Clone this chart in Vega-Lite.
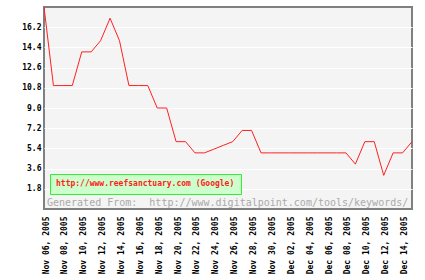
{
  "$schema": "https://vega.github.io/schema/vega-lite/v6.json",
  "autosize": "none",
  "width": 368,
  "height": 202,
  "padding": {"left": 44, "top": 7, "right": 13, "bottom": 71},
  "background": "white",
  "config": {
    "view": {"stroke": "#808080", "strokeWidth": 2, "fill": "#f4f4f4"}
  },
  "data": {
    "values": [
      {"date": "Nov 06, 2005", "v": 18},
      {"date": "Nov 07, 2005", "v": 11},
      {"date": "Nov 08, 2005", "v": 11},
      {"date": "Nov 09, 2005", "v": 11},
      {"date": "Nov 10, 2005", "v": 14},
      {"date": "Nov 11, 2005", "v": 14},
      {"date": "Nov 12, 2005", "v": 15},
      {"date": "Nov 13, 2005", "v": 17},
      {"date": "Nov 14, 2005", "v": 15},
      {"date": "Nov 15, 2005", "v": 11},
      {"date": "Nov 16, 2005", "v": 11},
      {"date": "Nov 17, 2005", "v": 11},
      {"date": "Nov 18, 2005", "v": 9},
      {"date": "Nov 19, 2005", "v": 9},
      {"date": "Nov 20, 2005", "v": 6},
      {"date": "Nov 21, 2005", "v": 6},
      {"date": "Nov 22, 2005", "v": 5},
      {"date": "Nov 23, 2005", "v": 5},
      {"date": "Nov 24, 2005", "v": 5.33},
      {"date": "Nov 25, 2005", "v": 5.67},
      {"date": "Nov 26, 2005", "v": 6},
      {"date": "Nov 27, 2005", "v": 7},
      {"date": "Nov 28, 2005", "v": 7},
      {"date": "Nov 29, 2005", "v": 5},
      {"date": "Nov 30, 2005", "v": 5},
      {"date": "Dec 01, 2005", "v": 5},
      {"date": "Dec 02, 2005", "v": 5},
      {"date": "Dec 03, 2005", "v": 5},
      {"date": "Dec 04, 2005", "v": 5},
      {"date": "Dec 05, 2005", "v": 5},
      {"date": "Dec 06, 2005", "v": 5},
      {"date": "Dec 07, 2005", "v": 5},
      {"date": "Dec 08, 2005", "v": 5},
      {"date": "Dec 09, 2005", "v": 4},
      {"date": "Dec 10, 2005", "v": 6},
      {"date": "Dec 11, 2005", "v": 6},
      {"date": "Dec 12, 2005", "v": 3},
      {"date": "Dec 13, 2005", "v": 5},
      {"date": "Dec 14, 2005", "v": 5},
      {"date": "Dec 15, 2005", "v": 6}
    ]
  },
  "layer": [
    {
      "mark": {"type": "line", "strokeWidth": 1, "interpolate": "linear"},
      "encoding": {
        "x": {
          "field": "date",
          "type": "ordinal",
          "sort": null,
          "scale": {"type": "point", "padding": 0},
          "axis": {
            "title": null,
            "values": ["Nov 06, 2005", "Nov 08, 2005", "Nov 10, 2005", "Nov 12, 2005", "Nov 14, 2005", "Nov 16, 2005", "Nov 18, 2005", "Nov 20, 2005", "Nov 22, 2005", "Nov 24, 2005", "Nov 26, 2005", "Nov 28, 2005", "Nov 30, 2005", "Dec 02, 2005", "Dec 04, 2005", "Dec 06, 2005", "Dec 08, 2005", "Dec 10, 2005", "Dec 12, 2005", "Dec 14, 2005"],
            "labelAngle": -90,
            "labelFont": "DejaVu Sans Mono",
            "labelFontWeight": "bold",
            "labelFontSize": 8,
            "labelColor": "#000000",
            "labelPadding": 7,
            "labelOffset": 2,
            "labelOverlap": false,
            "ticks": false,
            "domain": false,
            "grid": false
          }
        },
        "y": {
          "field": "v",
          "type": "quantitative",
          "scale": {"domain": [0, 18], "nice": false, "zero": true},
          "axis": {
            "title": null,
            "values": [1.8, 3.6, 5.4, 7.2, 9.0, 10.8, 12.6, 14.4, 16.2],
            "tickCount": 20,
            "format": ".1f",
            "labelFont": "DejaVu Sans Mono",
            "labelFontWeight": "bold",
            "labelFontSize": 8,
            "labelColor": "#000000",
            "labelPadding": 3,
            "labelOverlap": false,
            "ticks": false,
            "domain": false,
            "grid": true,
            "gridColor": "#ffffff",
            "gridWidth": 1,
            "gridOpacity": 1
          }
        },
        "color": {
          "datum": "http://www.reefsanctuary.com (Google)",
          "type": "nominal",
          "scale": {"range": ["#ff2020"]},
          "legend": {
            "title": null,
            "orient": "none",
            "legendX": 6,
            "legendY": 167,
            "fillColor": "#ccffcc",
            "strokeColor": "#33ee33",
            "padding": 6,
            "symbolSize": 0,
            "symbolStrokeWidth": 0,
            "symbolOpacity": 0,
            "labelOffset": -8,
            "labelFont": "DejaVu Sans Mono",
            "labelFontWeight": "bold",
            "labelFontSize": 8,
            "labelColor": "#ff2020",
            "labelLimit": 400
          }
        }
      }
    },
    {
      "data": {"values": [{"label": "Generated From:\u00a0 http://www.digitalpoint.com/tools/keywords/"}]},
      "mark": {"type": "text", "align": "left", "baseline": "alphabetic", "font": "DejaVu Sans Mono", "fontSize": 10, "color": "#aaaaaa", "dx": 3},
      "encoding": {
        "x": {"datum": "Nov 06, 2005"},
        "y": {"datum": 0.25},
        "text": {"field": "label"}
      }
    }
  ]
}
